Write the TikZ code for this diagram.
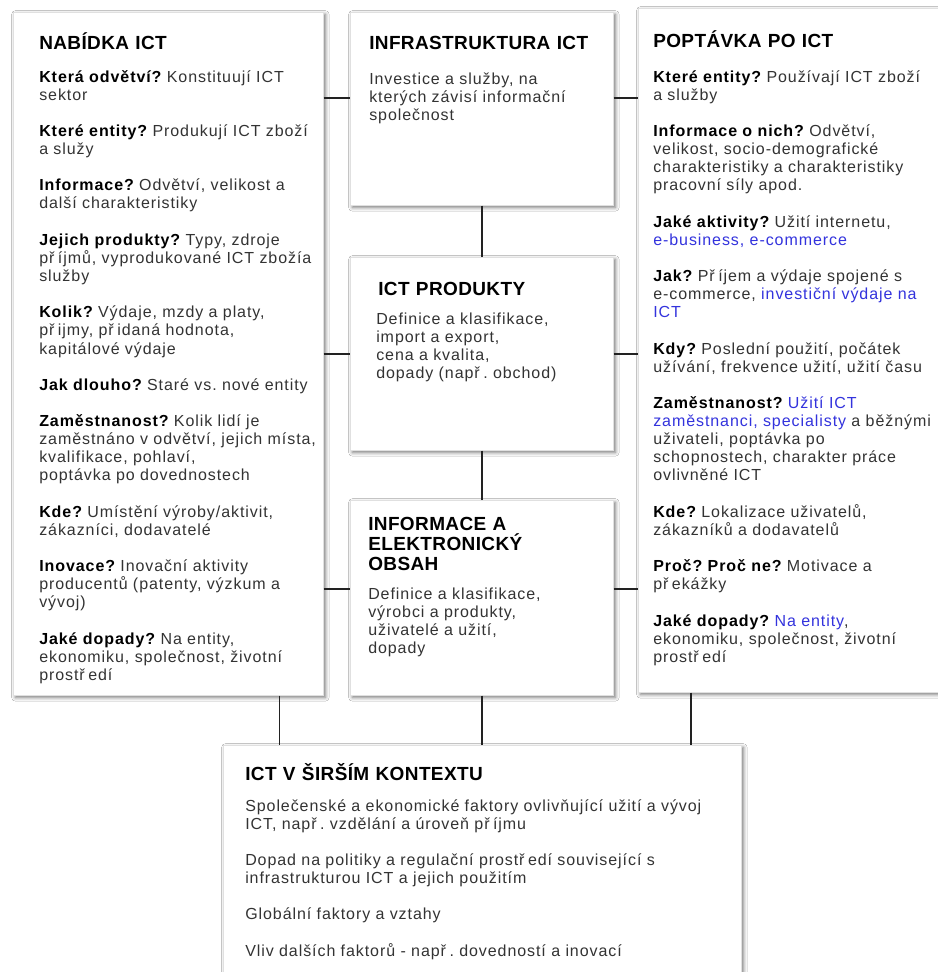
\documentclass[tikz,border=0pt]{standalone}
\usepackage{fontspec}
\setmainfont{Liberation Sans}[LetterSpace=5.8]
\usetikzlibrary{shadows.blur}
\definecolor{bodytext}{HTML}{333333}
\definecolor{linkblue}{HTML}{3333DD}
\definecolor{wire}{HTML}{222222}
% small gap the renderer leaves after the letter r with caron
\newcommand\rsp{\kern0.22em}
\newcommand\lbl[1]{\textbf{\color{black}#1}}
\newcommand\lnk[1]{\textcolor{linkblue}{#1}}
\newcommand\pgap{\\[13.6pt]}

\tikzset{
  panel/.style={draw=black!12, line width=0.4pt, fill=white, anchor=north west,
    inner sep=0pt,
    blur shadow={shadow xshift=1.6pt, shadow yshift=-1.6pt,
      shadow blur radius=2.8pt, shadow opacity=55}},
  heading/.style={anchor=base west, inner sep=0pt, text width=480pt, align=left,
    font=\fontsize{14.25}{15}\selectfont\bfseries\addfontfeatures{LetterSpace=2}\frenchspacing,
    text=black},
  bodytxt/.style={anchor=base west, inner sep=0pt, text width=480pt, align=left,
    font=\fontsize{12}{13.6}\selectfont\frenchspacing, text=bodytext},
  conn/.style={draw=wire, line width=1.3pt},
}

\begin{document}
\begin{tikzpicture}[x=0.75pt, y=-0.75pt]
  \path[use as bounding box, fill=white] (0,0) rectangle (938,972);
  \clip (0,0) rectangle (938,972);

  % panels
  \node[panel, minimum width=232.5pt, minimum height=512.25pt] (nab) at (13,12) {};
  \node[panel, minimum width=197.25pt, minimum height=144.75pt] (infra) at (350,12) {};
  \node[panel, minimum width=197.25pt, minimum height=144.75pt] (prod) at (350,257) {};
  \node[panel, minimum width=197.25pt, minimum height=146.25pt] (info) at (350,500) {};
  \node[panel, minimum width=240pt, minimum height=513pt] (pop) at (638,8) {};
  \node[panel, minimum width=388.5pt, minimum height=210pt] (ctx) at (223,745) {};

  % connectors
  \coordinate (r1) at ([yshift=7.9pt]infra.west);
  \coordinate (r2) at (prod.west);
  \coordinate (r3) at ([yshift=6.4pt]info.west);
  \foreach \r in {r1,r2,r3}{
    \draw[conn] (nab.east |- \r) -- (\r);
    \draw[conn] (\r -| infra.east) -- (pop.west |- \r);
  }
  \draw[conn] (infra.south) -- (prod.north);
  \draw[conn] (prod.south) -- (info.north);
  \draw[conn] (info.south) -- (info.south |- ctx.north);
  \coordinate (dl) at ([xshift=-33pt]nab.south east);
  \coordinate (dr) at ([xshift=39.75pt]pop.south west);
  \draw[conn] (dl) -- (dl |- ctx.north);
  \draw[conn] (dr) -- (dr |- ctx.north);

  % supply side
  \node[heading] (nabT) at (39,49) {NABÍDKA ICT};
  \node[bodytxt] (nabB) at (39,82) {%
    \lbl{Která odvětví?} Konstituují ICT\\ sektor\pgap
    \lbl{Které entity?} Produkují ICT zboží\\ a služy\pgap
    \lbl{Informace?} Odvětví, velikost a\\ další charakteristiky\pgap
    \lbl{Jejich produkty?} Typy, zdroje\\ př\rsp íjmů, vyprodukované ICT zbožía\\ služby\pgap
    \lbl{Kolik?} Výdaje, mzdy a platy,\\ př\rsp ijmy, př\rsp idaná hodnota,\\ kapitálové výdaje\pgap
    \lbl{Jak dlouho?} Staré vs. nové entity\pgap
    \lbl{Zaměstnanost?} Kolik lidí je\\ zaměstnáno v odvětví, jejich místa,\\ kvalifikace, pohlaví,\\ poptávka po dovednostech\pgap
    \lbl{Kde?} Umístění výroby/aktivit,\\ zákazníci, dodavatelé\pgap
    \lbl{Inovace?} Inovační aktivity\\ producentů (patenty, výzkum a\\ vývoj)\pgap
    \lbl{Jaké dopady?} Na entity,\\ ekonomiku, společnost, životní\\ prostř\rsp edí};

  % infrastructure
  \node[heading] (infraT) at (369,49) {INFRASTRUKTURA ICT};
  \node[bodytxt] (infraB) at (369,84) {%
    Investice a služby, na\\ kterých závisí informační\\ společnost};

  % products
  \node[heading] (prodT) at (378,295) {ICT PRODUKTY};
  \node[bodytxt] (prodB) at (376,324) {%
    Definice a klasifikace,\\ import a export,\\ cena a kvalita,\\ dopady (např\rsp . obchod)};

  % content
  \node[heading] (infoT) at (368,530) {%
    INFORMACE A\\ ELEKTRONICKÝ\\ OBSAH};
  \node[bodytxt] (infoB) at (368,599) {%
    Definice a klasifikace,\\ výrobci a produkty,\\ uživatelé a užití,\\ dopady};

  % demand side
  \node[heading] (popT) at (653,47) {POPTÁVKA PO ICT};
  \node[bodytxt] (popB) at (653,82) {%
    \lbl{Které entity?} Používají ICT zboží\\ a služby\pgap
    \lbl{Informace o nich?} Odvětví,\\ velikost, socio-demografické\\ charakteristiky a charakteristiky\\ pracovní síly apod.\pgap
    \lbl{Jaké aktivity?} Užití internetu,\\ \lnk{e-business, e-commerce}\pgap
    \lbl{Jak?} Př\rsp íjem a výdaje spojené s\\ e-commerce, \lnk{investiční výdaje na\\ ICT}\pgap
    \lbl{Kdy?} Poslední použití, počátek\\ užívání, frekvence užití, užití času\pgap
    \lbl{Zaměstnanost?} \lnk{Užití ICT\\ zaměstnanci, specialisty} a běžnými\\ uživateli, poptávka po\\ schopnostech, charakter práce\\ ovlivněné ICT\pgap
    \lbl{Kde?} Lokalizace uživatelů,\\ zákazníků a dodavatelů\pgap
    \lbl{Proč? Proč ne?} Motivace a\\ př\rsp ekážky\pgap
    \lbl{Jaké dopady?} \lnk{Na entity},\\ ekonomiku, společnost, životní\\ prostř\rsp edí};

  % wider context
  \node[heading] (ctxT) at (245,780) {ICT V ŠIRŠÍM KONTEXTU};
  \node[bodytxt] (ctxB) at (245,811) {%
    Společenské a ekonomické faktory ovlivňující užití a vývoj\\ ICT, např\rsp . vzdělání a úroveň př\rsp íjmu\pgap
    Dopad na politiky a regulační prostř\rsp edí související s\\ infrastrukturou ICT a jejich použitím\pgap
    Globální faktory a vztahy\pgap
    Vliv dalších faktorů - např\rsp . dovedností a inovací};
\end{tikzpicture}
\end{document}
